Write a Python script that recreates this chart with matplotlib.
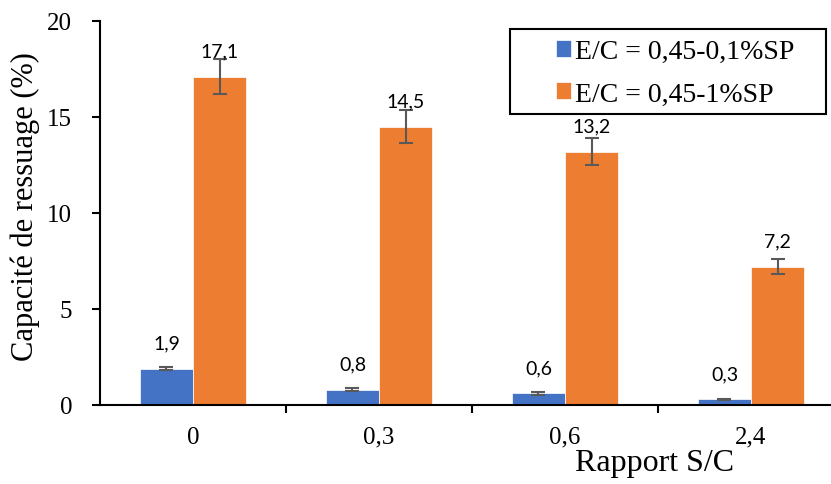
import matplotlib
matplotlib.use("Agg")
import matplotlib.pyplot as plt
from matplotlib.patches import Rectangle
import numpy as np

categories = ["0", "0,3", "0,6", "2,4"]
series1_name = "E/C = 0,45-0,1%SP"
series2_name = "E/C = 0,45-1%SP"
series1 = [1.9, 0.8, 0.6, 0.3]
series2 = [17.1, 14.5, 13.2, 7.2]
err1 = [0.1, 0.06, 0.07, 0.03]
err2 = [0.9, 0.85, 0.7, 0.4]
labels1 = ["1,9", "0,8", "0,6", "0,3"]
labels2 = ["17,1", "14,5", "13,2", "7,2"]

W, H = 831, 485
fig = plt.figure(figsize=(W/100, H/100), dpi=100)
ax = fig.add_axes([100/W, (H-406)/H, 744/W, (406-22)/H])

x = np.arange(len(categories))
w = 0.285
blue = "#4472C4"
orange = "#ED7D31"
ecol = "#595959"
ekw = dict(ecolor=ecol, capsize=5, elinewidth=1.5, capthick=1.5)
b1 = ax.bar(x - w/2, series1, w, color=blue, edgecolor="#ffffff", linewidth=0.5,
            yerr=err1, error_kw=ekw, label=series1_name, zorder=2)
b2 = ax.bar(x + w/2, series2, w, color=orange, edgecolor="#ffffff", linewidth=0.5,
            yerr=err2, error_kw=ekw, label=series2_name, zorder=2)

for xi, v, t in zip(x - w/2, series1, labels1):
    ax.annotate(t, (xi, v), xytext=(0, 18.5), textcoords="offset points",
                ha="center", va="center", fontsize=14, family="Lato")
for xi, v, t in zip(x + w/2, series2, labels2):
    ax.annotate(t, (xi, v), xytext=(0, 18.5), textcoords="offset points",
                ha="center", va="center", fontsize=14, family="Lato")

ax.set_xlim(-0.5, 3.5)
ax.set_ylim(0, 20)
ax.set_yticks([0, 5, 10, 15, 20])
ax.set_xticks(x)
ax.set_xticklabels(categories)
ax.set_xticks([0.5, 1.5, 2.5], minor=True)
ax.tick_params(axis="x", which="major", length=0, pad=15, labelsize=18)
ax.tick_params(axis="x", which="minor", length=6, width=1.5, direction="out")
ax.tick_params(axis="y", length=6, width=1.5, direction="out", labelsize=18, pad=14)
for lab in ax.get_xticklabels() + ax.get_yticklabels():
    lab.set_family("Liberation Serif")

for s in ["top", "right"]:
    ax.spines[s].set_visible(False)
for s in ["left", "bottom"]:
    ax.spines[s].set_linewidth(1.5)
    ax.spines[s].set_color("black")

ax.set_ylabel("Capacité de ressuage (%)", fontsize=22, family="Liberation Serif")
ax.yaxis.set_label_coords(-0.08, 0.52)
ax.set_xlabel("Rapport S/C", fontsize=23, family="Liberation Serif")
ax.xaxis.set_label_coords(0.746, -0.113)

leg = fig.legend(handles=[b1, b2], labels=[series1_name, series2_name],
                 loc="upper left", bbox_to_anchor=(556/W, 1 - 40/H),
                 prop=dict(family="Liberation Serif", size=20), frameon=False,
                 handlelength=0.55, handleheight=0.55, handletextpad=0.12,
                 borderpad=0, labelspacing=0.63, borderaxespad=0)
fig.patches.append(Rectangle((510/W, 1 - 115/H), (826-510)/W, (115-30)/H,
                             transform=fig.transFigure, fill=False,
                             edgecolor="black", linewidth=1.5))

fig.savefig("out.png", dpi=100)
